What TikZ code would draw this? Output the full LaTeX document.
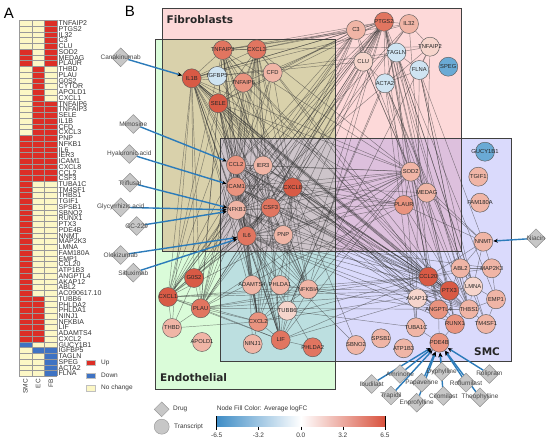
\documentclass[tikz,border=0pt]{standalone}
\usepackage{fontspec}
\setmainfont{Liberation Sans}
\newfontfamily\dejavu{DejaVu Sans}
\usetikzlibrary{shapes.geometric,arrows.meta}
\pgfdeclarelayer{bg}
\pgfdeclarelayer{edges}
\pgfdeclarelayer{arrowlayer}
\pgfdeclarelayer{top}
\pgfsetlayers{bg,edges,arrowlayer,main,top}
\definecolor{hmUp}{RGB}{220,46,38}
\definecolor{hmDown}{RGB}{63,115,195}
\definecolor{hmNone}{RGB}{252,247,197}
\definecolor{pinkR}{HTML}{FDD9D9}
\definecolor{greenR}{HTML}{DAFCD9}
\definecolor{lavR}{HTML}{DADAFC}
\definecolor{tanR}{HTML}{D9D1AB}
\definecolor{grayR}{HTML}{CDC4CA}
\definecolor{purR}{HTML}{DDC0DD}
\definecolor{tealR}{HTML}{BCDFE0}
\definecolor{r1}{HTML}{F6D5CC}
\definecolor{r2}{HTML}{F0B5A6}
\definecolor{r3}{HTML}{E9937F}
\definecolor{r4}{HTML}{E17560}
\definecolor{r5}{HTML}{D85A45}
\definecolor{b1}{HTML}{CFE4F2}
\definecolor{b2}{HTML}{6AAAD5}
\definecolor{arrowblue}{HTML}{2B7BBA}
\definecolor{cbBlue}{HTML}{3F8DC6}
\definecolor{cbRed}{HTML}{D9533F}
% run of heatmap cells: column x, first row, last row, colour
\newcommand{\hmrun}[4]{%
  \pgfmathsetmacro\hmya{20.4+(#2-1)*5.74}%
  \pgfmathsetmacro\hmyb{20.4+(#3)*5.74}%
  \fill[#4] (#1,\hmya) rectangle ++(12.77,\hmyb-\hmya);
}
\begin{document}
\begin{tikzpicture}[x=1pt,y=-1pt,
  gene/.style={circle, draw=black!65, line width=0.45pt, minimum size=19pt, inner sep=0pt, font=\fontsize{5.8}{6}\selectfont, text=black!85},
  drug/.style={diamond, fill=black!22, draw=black!45, line width=0.45pt, minimum width=19pt, minimum height=19pt, inner sep=0pt},
  druglabel/.style={font=\fontsize{6.5}{7}\selectfont, text=black!72, inner sep=0pt},
  drugarrow/.style={draw=arrowblue, line width=1.4pt, -{Stealth[length=4.5pt,width=4pt,black]}, shorten >=0.3pt},
  edge/.style={draw=black!80, line width=0.45pt, opacity=0.55},
  hmlabel/.style={anchor=west, font=\fontsize{7}{7}\selectfont, text=black!80, inner sep=0pt},
  region/.style={draw=black!75, line width=0.8pt},
  smalltxt/.style={font=\fontsize{6.5}{7}\selectfont, text=black!78, inner sep=0pt},
  title/.style={font=\dejavu\bfseries\fontsize{10.5}{12}\selectfont, text=black!85, anchor=west, inner sep=0pt}
]
\useasboundingbox (0,0) rectangle (550,442);
\begin{pgfonlayer}{bg}
  \fill[white] (0,0) rectangle (550,442);
  \fill[pinkR] (162.7,8.3) rectangle (461.7,251.7);
  \fill[greenR] (155,39.3) rectangle (335,389.3);
  \fill[lavR] (220,138.3) rectangle (511.7,361.7);
  \fill[tanR] (162.7,39.3) rectangle (335,251.7);
  \fill[purR] (335,138.3) rectangle (461.7,251.7);
  \fill[tealR] (220,251.7) rectangle (335,361.7);
  \fill[grayR] (220,138.3) rectangle (335,251.7);
  \draw[region] (162.7,8.3) rectangle (461.7,251.7);
  \draw[region] (155,39.3) rectangle (335,389.3);
  \draw[region] (220,138.3) rectangle (511.7,361.7);
\end{pgfonlayer}

% ---------- Panel A ----------
\node[font=\fontsize{15}{15}\selectfont, inner sep=0pt] (labA) at (9,13) {A};
% SMC column
\hmrun{19}{1}{5}{hmNone}
\hmrun{19}{6}{8}{hmUp}
\hmrun{19}{9}{20}{hmNone}
\hmrun{19}{21}{56}{hmUp}
\hmrun{19}{57}{57}{hmDown}
\hmrun{19}{58}{62}{hmNone}
% EC column
\hmrun{31.77}{1}{8}{hmNone}
\hmrun{31.77}{9}{28}{hmUp}
\hmrun{31.77}{29}{48}{hmNone}
\hmrun{31.77}{49}{56}{hmUp}
\hmrun{31.77}{57}{57}{hmNone}
\hmrun{31.77}{58}{58}{hmDown}
\hmrun{31.77}{59}{62}{hmNone}
% FB column
\hmrun{44.54}{1}{8}{hmUp}
\hmrun{44.54}{9}{14}{hmNone}
\hmrun{44.54}{15}{28}{hmUp}
\hmrun{44.54}{29}{57}{hmNone}
\hmrun{44.54}{58}{62}{hmDown}
\foreach \g [count=\i] in {TNFAIP2,PTGS2,IL32,C3,CLU,SOD2,MEDAG,PLAUR,THBD,PLAU,G0S2,CYTOR,APOLD1,CXCL1,
TNFAIP6,TNFAIP3,SELE,IL1B,CFD,CXCL3,PNP,NFKB1,IL6,IER3,ICAM1,CXCL8,CCL2,CSF3,
TUBA1C,TM4SF1,THBS1,TGIF1,SPSB1,SBNO2,RUNX1,PTX3,PDE4B,NNMT,MAP2K3,LMNA,FAM180A,EMP1,CCL20,ATP1B3,
ANGPTL4,AKAP12,ABL2,AC090617.10,TUBB6,PHLDA2,PHLDA1,NINJ1,NFKBIA,LIF,ADAMTS4,CXCL2,
GUCY1B1,IGFBP5,TAGLN,SPEG,ACTA2,FLNA}{
  \node[hmlabel] (hm\i) at (58.5,{20.4+(\i-1)*5.74+2.95}) {\g};
}
% grid lines
\foreach \k in {0,...,62}
  \draw[black!40, line width=0.35pt] (19,20.4+\k*5.74) -- (57.31,20.4+\k*5.74);
\foreach \x in {19,31.77,44.54,57.31}
  \draw[black!40, line width=0.35pt] (\x,20.4) -- (\x,376.28);
\foreach \x/\t [count=\k] in {25.4/SMC,38.15/EC,50.9/FB}
  \node[smalltxt, rotate=90, anchor=east] (col\k) at (\x,379) {\t};
\path[fill=hmUp, draw=black!25, line width=0.3pt] (86,360) rectangle (95,365.4);
\node[smalltxt, anchor=west] (lg1) at (101,362.7) {Up};
\path[fill=hmDown, draw=black!25, line width=0.3pt] (86,372.7) rectangle (95,378.1);
\node[smalltxt, anchor=west] (lg2) at (101,375.4) {Down};
\path[fill=hmNone, draw=black!25, line width=0.3pt] (86,385.4) rectangle (95,390.8);
\node[smalltxt, anchor=west] (lg3) at (101,388.1) {No change};

% ---------- Panel B ----------
\node[font=\fontsize{15}{15}\selectfont, inner sep=0pt] (labB) at (130,11.5) {B};
\node[title] (fibT) at (166.5,20) {Fibroblasts};
\node[title] (endT) at (160,378) {Endothelial};
\node[title] (smcT) at (474,351.7) {SMC};

% genes
\foreach \n/\x/\y/\f in {
TNFAIP3/222.7/50/r4, CXCL3/256.7/49.3/r4, IL1B/191.7/78.3/r5, IGFBP5/217.3/76/b1,
TNFAIP6/243.3/82.7/r3, SELE/218.3/103.3/r5, CFD/272.7/72.7/r2, C3/356/30/r2,
PTGS2/384/21.7/r4, IL32/409/24/r2, TAGLN/396.5/52.5/b1, CLU/363.3/61.7/r1,
ACTA2/385/83.3/b1, TNFAIP2/430/46.7/r1, FLNA/419.3/70/b1, SPEG/448.3/66.7/b2,
CCL2/236/165/r3, IER3/263/165.5/r2, ICAM1/236/186.7/r3, NFKB1/236.7/210/r2,
CSF3/270.7/207.7/r4, CXCL8/292.7/187.3/r5, IL6/246.7/236/r4, PNP/283.3/235/r2,
SOD2/410.7/171.7/r2, MEDAG/426.7/192.7/r2, PLAUR/404/205/r3,
GUCY1B1/485/151.7/b2, TGIF1/478.3/176.7/r2, FAM180A/480/202.7/r2, NNMT/483.3/241.7/r2,
ABL2/460.5/268.3/r2, MAP2K3/491.7/268.3/r2, CCL20/428.3/276.7/r5, PTX3/449.5/290.7/r5,
LMNA/473.2/286.5/r1, AKAP12/417.3/298.3/r1, ANGPTL4/438.5/309.5/r3, THBS1/469/309.3/r2,
EMP1/496/299.3/r2, TM4SF1/486/324/r2, RUNX1/455/324/r3, TUBA1C/416/327.3/r2,
PDE4B/439.3/342.7/r3, ATP1B3/403.6/348.3/r2, SPSB1/381/338.3/r2, SBNO2/356/345/r2,
G0S2/194/278/r5, CXCL1/168/297/r5, PLAU/200.7/308.3/r4, THBD/172/328/r2, APOLD1/202/342/r2,
ADAMTS4/252/285/r2, PHLDA1/280/285/r2, NFKBIA/308.3/289.3/r2, TUBB6/287.3/310.7/r1,
CXCL2/258.3/321.7/r3, LIF/280.7/340/r4, PHLDA2/312.7/347.3/r4, NINJ1/252.7/344/r2}{
  \node[gene, fill=\f] (\n) at (\x,\y) {\makebox[0pt]{\n}};
}

% edges
\def\corelist{IL1B,CXCL8,IL6,CCL2,ICAM1,NFKB1,CSF3,IER3,CXCL3,TNFAIP3,SELE,PTGS2,CXCL1,CXCL2,NFKBIA,CCL20,PTX3,LIF,SOD2,PLAU}
\begin{pgfonlayer}{edges}
\foreach \ea [count=\i] in \corelist {
  \foreach \eb [count=\j] in \corelist {
    \ifnum\j>\i \draw[edge] (\ea) -- (\eb); \fi
  }
}
\foreach \ea/\eb in {
TNFAIP6/IL1B, TNFAIP6/CXCL8, TNFAIP6/IL6, TNFAIP6/CCL2, TNFAIP6/TNFAIP3, TNFAIP6/PTX3, TNFAIP6/SELE, TNFAIP6/CXCL3, TNFAIP6/NFKB1,
IGFBP5/IL6, IGFBP5/CXCL8, IGFBP5/TAGLN,
CFD/C3, CFD/IL6, CFD/CXCL8, CFD/ICAM1, CFD/CCL2,
C3/IL1B, C3/IL6, C3/CXCL8, C3/CCL2, C3/CLU, C3/PTGS2, C3/ICAM1, C3/NFKB1, C3/SOD2, C3/CSF3, C3/TNFAIP3, C3/CXCL3, C3/SELE, C3/CXCL1,
PTGS2/IL32, PTGS2/TAGLN, PTGS2/CLU, PTGS2/PLAUR, PTGS2/THBS1, PTGS2/ANGPTL4, PTGS2/RUNX1, PTGS2/G0S2, PTGS2/PNP, PTGS2/TNFAIP6, PTGS2/ACTA2,
IL32/IL6, IL32/CXCL8, IL32/IL1B, IL32/NFKB1, IL32/TNFAIP3, IL32/CCL20, IL32/TNFAIP2,
TAGLN/ACTA2, TAGLN/FLNA, TAGLN/TNFAIP2, TAGLN/LMNA, TAGLN/THBS1, TAGLN/TM4SF1, TAGLN/EMP1, TAGLN/TUBA1C, TAGLN/CLU, TAGLN/TUBB6, TAGLN/RUNX1,
ACTA2/FLNA, ACTA2/THBS1, ACTA2/LMNA, ACTA2/TM4SF1, ACTA2/TUBA1C, ACTA2/CLU, ACTA2/ANGPTL4, ACTA2/TUBB6,
FLNA/LMNA, FLNA/THBS1, FLNA/TNFAIP2, FLNA/ABL2, FLNA/TUBA1C, FLNA/NNMT,
CLU/IL6, CLU/SOD2, CLU/CXCL8, CLU/THBS1, CLU/IL1B,
TNFAIP2/TNFAIP3, TNFAIP2/NFKBIA, TNFAIP2/NFKB1, TNFAIP2/MEDAG,
SOD2/MEDAG, SOD2/PLAUR, SOD2/NNMT,
PLAUR/PLAU, PLAUR/IL1B, PLAUR/CXCL8, PLAUR/IL6, PLAUR/NFKB1, PLAUR/CCL2, PLAUR/THBS1, PLAUR/NNMT, PLAUR/ICAM1, PLAUR/CCL20,
MEDAG/IL6, MEDAG/CXCL8, MEDAG/NNMT,
NNMT/ABL2, NNMT/MAP2K3, NNMT/CCL20, NNMT/LMNA,
ABL2/MAP2K3, ABL2/LMNA, ABL2/CCL20, ABL2/PTX3, MAP2K3/EMP1, MAP2K3/CCL20, MAP2K3/IL6,
LMNA/THBS1, LMNA/EMP1, LMNA/PTX3,
ANGPTL4/AKAP12, ANGPTL4/THBS1, ANGPTL4/IL6, ANGPTL4/CXCL8, ANGPTL4/IL1B, ANGPTL4/NFKBIA, ANGPTL4/CCL20, ANGPTL4/PDE4B,
THBS1/RUNX1, THBS1/EMP1, THBS1/TM4SF1, THBS1/IL1B, THBS1/IL6, THBS1/CXCL8, THBS1/CCL2, THBS1/ICAM1, THBS1/PLAU, THBS1/NFKB1, THBS1/PTX3,
RUNX1/PDE4B, RUNX1/IL6, RUNX1/CXCL8, RUNX1/PTX3, RUNX1/CCL20,
TUBA1C/PDE4B, TUBA1C/AKAP12, TUBA1C/TUBB6,
AKAP12/CCL2, AKAP12/IL1B, AKAP12/CXCL8, AKAP12/ICAM1, AKAP12/THBS1,
EMP1/TM4SF1,
G0S2/IL1B, G0S2/CXCL8, G0S2/IL6, G0S2/NFKB1, G0S2/CXCL1, G0S2/PLAU,
THBD/IL1B, THBD/CXCL2, THBD/CXCL1, THBD/ICAM1, THBD/PLAU,
ADAMTS4/IL1B, ADAMTS4/IL6, ADAMTS4/CXCL8, ADAMTS4/CCL2, ADAMTS4/NFKB1, ADAMTS4/CXCL2,
PHLDA1/IL6, PHLDA1/CXCL8, PHLDA1/NFKB1, PHLDA1/NFKBIA,
TUBB6/IL6, TUBB6/CXCL8, TUBB6/LIF,
PHLDA2/IL6, PHLDA2/LIF,
NINJ1/IL6, NINJ1/CXCL2,
PNP/NFKB1, PNP/IL6, PNP/CXCL8, PNP/CSF3, PNP/SOD2,
SBNO2/IL6, SBNO2/CXCL8}{
  \draw[edge] (\ea) -- (\eb);
}
\end{pgfonlayer}

% drugs
\foreach \n/\x/\y/\t/\tg in {
canak/120.7/57.3/Canakinumab/IL1B,
mimo/133.3/124/Mimosine/CCL2,
hyal/129.3/154/Hyaluronic acid/ICAM1,
trif/130/182.7/Triflusal/NFKB1,
glyc/120.7/207.3/Glycyrrhizic acid/NFKB1,
gcx/136.7/226/GC-229/NFKB1,
olok/120.7/255/Olokizumab/IL6,
silt/133.3/272.7/Siltuximab/IL6,
niac/536/238.3/Niacin/NNMT,
ibud/371.7/384/Ibudilast/PDE4B,
amri/400/374/Amrinone/PDE4B,
trap/391/395.5/Trapidil/PDE4B,
papa/421.7/382.7/Papaverine/PDE4B,
enpr/416.7/402.7/Enprofylline/PDE4B,
dyph/441.7/371.7/Dyphylline/PDE4B,
cilo/443.3/396/Cilomilast/PDE4B,
rofl/466/382.7/Roflumilast/PDE4B,
theo/480/397.3/Theophylline/PDE4B,
roli/489.3/374/Rolipram/PDE4B}{
  \node[drug] (\n) at (\x,\y) {};
  \begin{pgfonlayer}{arrowlayer}
    \draw[drugarrow] (\n) -- (\tg);
  \end{pgfonlayer}
  \begin{pgfonlayer}{top}
    \node[druglabel] (\n-l) at (\x,\y) {\t};
  \end{pgfonlayer}
}

% legend
\node[drug, minimum width=15pt, minimum height=15pt, fill=black!22, draw=black!40] (lgDrug) at (161.7,409.3) {};
\node[smalltxt, anchor=west] (lgDrugT) at (173,409.3) {Drug};
\node[circle, minimum size=15pt, inner sep=0pt, fill=black!22, draw=black!40, line width=0.45pt] (lgTr) at (161.7,426.7) {};
\node[smalltxt, anchor=west] (lgTrT) at (174,426.7) {Transcript};
\node[smalltxt, anchor=west] (cbT) at (216.7,409.3) {Node Fill Color: Average logFC};
\shade[left color=cbBlue, right color=cbRed, middle color=white] (216.7,416) rectangle (385,426.7);
\draw[black, line width=0.6pt] (216.7,416) -- (216.7,429.5);
\draw[black, line width=0.6pt] (385,416) -- (385,429.5);
\foreach \x/\l [count=\k] in {216.7/-6.5, 258.5/-3.2, 300.8/0.0, 342.8/3.2, 385/6.5}{
  \draw[black, line width=0.5pt] (\x,426.7) -- (\x,429.5);
  \node[smalltxt] (tk\k) at (\x,435.5) {\l};
}
\end{tikzpicture}
\end{document}
